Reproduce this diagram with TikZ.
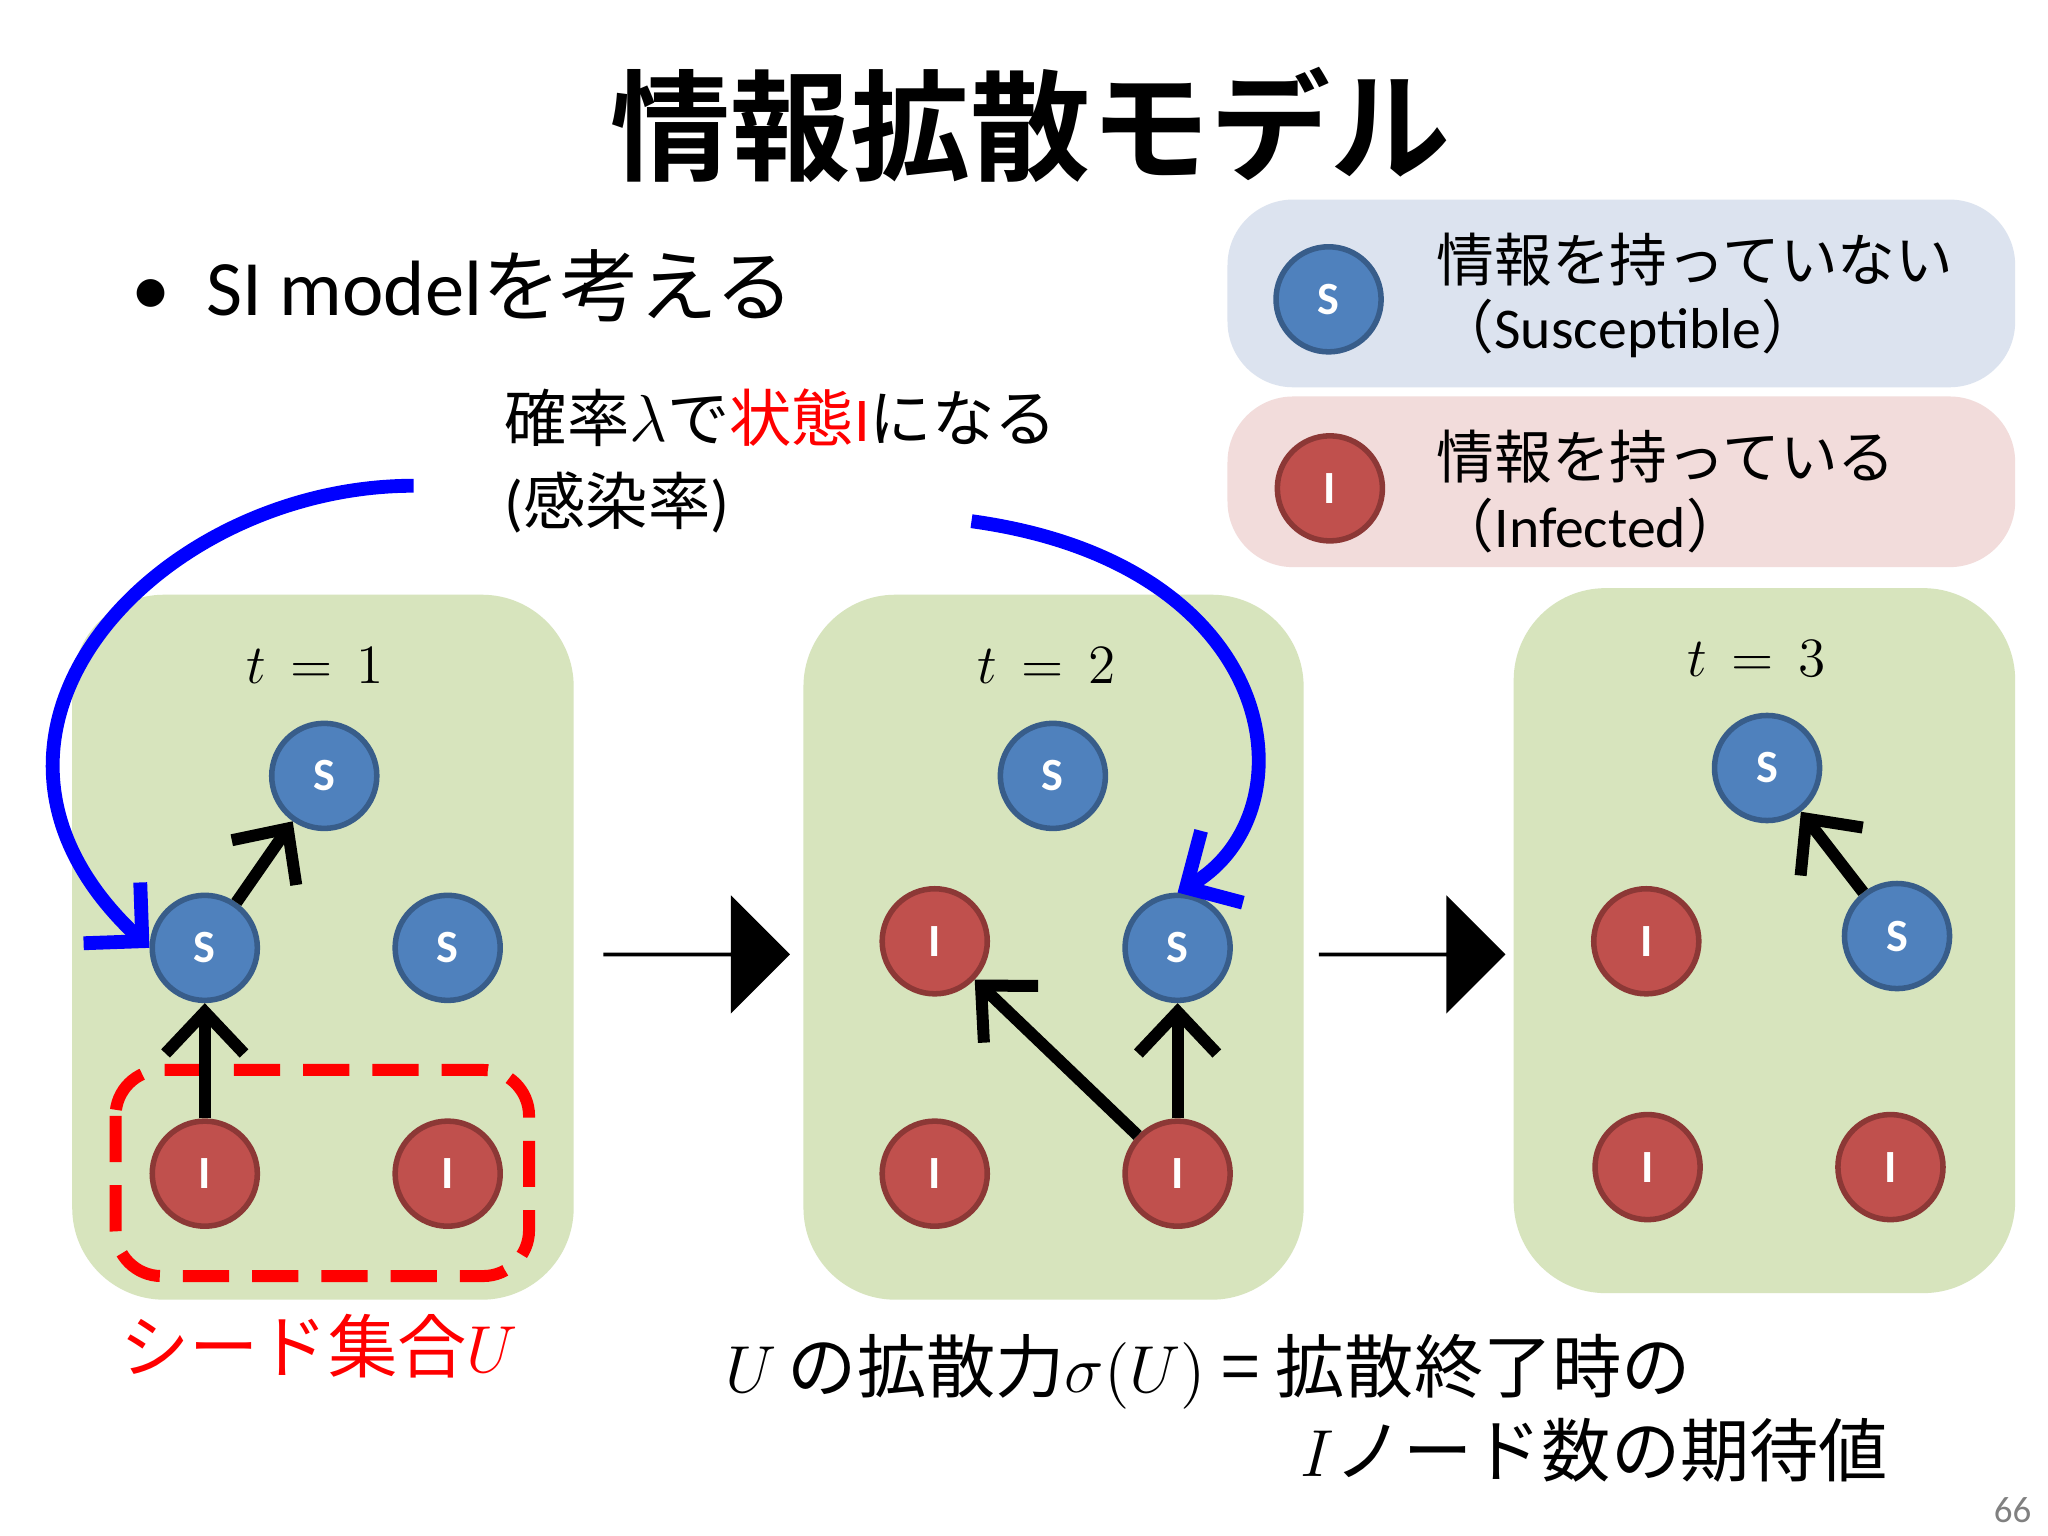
\documentclass[tikz,border=0pt]{standalone}
\usepackage{fontspec}
\setmainfont{Carlito}
\newfontfamily\jp{Noto Sans CJK JP}
\newfontfamily\jpb{Noto Sans CJK JP Bold}
\usetikzlibrary{arrows.meta,shapes.arrows}
\definecolor{sfill}{HTML}{4F81BD}
\definecolor{sline}{HTML}{385D8A}
\definecolor{ifill}{HTML}{C0504D}
\definecolor{iline}{HTML}{8C3836}
\definecolor{panel}{HTML}{D7E4BD}
\definecolor{legblue}{HTML}{DCE3EF}
\definecolor{legred}{HTML}{F2DCDB}
\tikzset{
  snode/.style={circle, draw=sline, fill=sfill, line width=1.2pt, minimum size=0.8cm, inner sep=0pt, text=white, font=\bfseries\fontsize{10}{10}\selectfont},
  inode/.style={snode, draw=iline, fill=ifill},
  panelbox/.style={fill=panel, rounded corners=0.7cm},
  spread/.style={line width=2.6pt, -{Straight Barb[length=9pt,width=17pt,line width=2.6pt]}},
  curve/.style={blue, line width=3pt, -{Straight Barb[length=9pt,width=18pt,line width=3pt]}},
  bigarrow/.style={single arrow, fill=black, minimum height=1.42cm, minimum width=0.9cm, single arrow head extend=0.22cm, inner sep=0pt, single arrow tip angle=90},
}
\begin{document}
\begin{tikzpicture}[x=0.01cm, y=-0.01cm]
  \useasboundingbox[fill=white] (0,0) rectangle (1560,1170);
  % title and bullet
  \node (title) at (785,95) {\jpb\fontsize{26}{26}\selectfont 情報拡散モデル};
  \node[anchor=west] (bullet) at (88,218) {\fontsize{17}{17}\selectfont •\hspace{0.45em}SI model{\jp を考える}};
  % legend
  \fill[fill=legblue, rounded corners=0.5cm] (935,152) rectangle (1535,295);
  \fill[fill=legred, rounded corners=0.5cm] (935,302) rectangle (1535,432);
  \node[snode] (legs) at (1012,228) {S};
  \node[inode] (legi) at (1013,372) {I};
  \node[anchor=west] (legs1) at (1082,198) {\jp\fontsize{12.5}{12.5}\selectfont 情報を持っていない};
  \node[anchor=west] (legs2) at (1082,250) {\fontsize{12.5}{12.5}\selectfont {\jp （}Susceptible{\jp ）}};
  \node[anchor=west] (legi1) at (1082,348) {\jp\fontsize{12.5}{12.5}\selectfont 情報を持っている};
  \node[anchor=west] (legi2) at (1082,400) {\fontsize{12.5}{12.5}\selectfont {\jp （}Infected{\jp ）}};
  % infection rate text
  \node[anchor=west] (rate1) at (372,318) {\jp\fontsize{13.5}{13.5}\selectfont 確率$\lambda$で\textcolor{red}{状態}{\textcolor{red}{\rmfamily I}}になる};
  \node[anchor=west] (rate2) at (372,383) {\fontsize{13.5}{13.5}\selectfont ({\jp 感染率})};
  % panels
  \fill[panelbox] (55,453) rectangle (437,990);
  \fill[panelbox] (612,453) rectangle (993,990);
  \fill[panelbox] (1153,448) rectangle (1535,985);
  \node (t1) at (240,507) {\fontsize{12}{12}\selectfont $t\,=\,1$};
  \node (t2) at (797,507) {\fontsize{12}{12}\selectfont $t\,=\,2$};
  \node (t3) at (1338,502) {\fontsize{12}{12}\selectfont $t\,=\,3$};
  % t = 1
  \node[snode] (a1) at (247,591) {S};
  \node[snode] (a2) at (156,722) {S};
  \node[snode] (a3) at (341,722) {S};
  \node[inode] (a4) at (156,894) {I};
  \node[inode] (a5) at (341,894) {I};
  \draw[red, line width=2.6pt, dash pattern=on 10pt off 5pt, rounded corners=0.35cm] (88,815) rectangle (403,972);
  \draw[spread] (a4) -- (a2);
  \draw[spread] (a2) -- (a1);
  % t = 2
  \node[snode] (b1) at (802,591) {S};
  \node[inode] (b2) at (712,717) {I};
  \node[snode] (b3) at (897,722) {S};
  \node[inode] (b4) at (712,894) {I};
  \node[inode] (b5) at (897,894) {I};
  \draw[spread] (b5) -- (b2);
  \draw[spread] (b5) -- (b3);
  % t = 3
  \node[snode] (c1) at (1346,585) {S};
  \node[inode] (c2) at (1254,717) {I};
  \node[snode] (c3) at (1445,713) {S};
  \node[inode] (c4) at (1255,889) {I};
  \node[inode] (c5) at (1440,889) {I};
  \draw[spread] (c3) -- (c1);
  % step arrows
  \node[bigarrow] (step1) at (530,727) {};
  \node[bigarrow] (step2) at (1075,727) {};
  % blue curves
  \coordinate (from1) at (315,370);
  \coordinate (from2) at (740,397);
  \draw[curve] (from1) .. controls (120,370) and (-60,560) .. (a2.west);
  \draw[curve] (from2) .. controls (980,430) and (1000,620) .. (b3.north);
  % bottom texts
  \node (seed) at (243,1025) {\jp\fontsize{15}{15}\selectfont\color{red} シード集合$U$};
  \node[anchor=west] (sigma1) at (540,1045) {\jp\fontsize{15}{15}\selectfont $U$\,の拡散力$\sigma(U)$ = 拡散終了時の};
  \node[anchor=west] (sigma2) at (978,1105) {\jp\fontsize{15}{15}\selectfont $I$ノード数の期待値};
  \node[gray] (page) at (1533,1150) {\fontsize{8}{8}\selectfont 66};
\end{tikzpicture}
\end{document}
